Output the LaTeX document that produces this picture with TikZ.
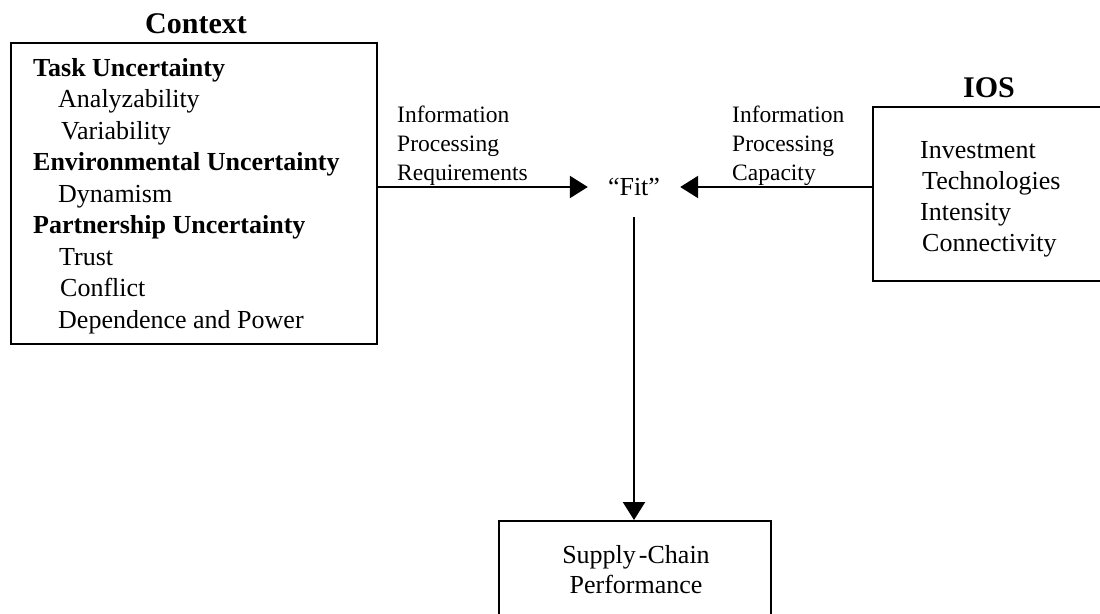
\documentclass[tikz,border=0pt]{standalone}
\usepackage{fontspec}
\setmainfont{Liberation Serif}
\usetikzlibrary{arrows.meta}
\tikzset{
  box/.style={draw, line width=2.4pt, rectangle, inner sep=0pt},
  body/.style={font=\fontsize{26}{31.5}\selectfont, inner sep=0pt},
  bodyb/.style={font=\fontsize{26}{31.5}\selectfont\bfseries, inner sep=0pt},
  lbl/.style={font=\fontsize{23.5}{29}\selectfont, inner sep=0pt, anchor=base west},
  ttl/.style={font=\fontsize{30}{36}\selectfont\bfseries, inner sep=0pt, anchor=base},
  arr/.style={line width=2.4pt, -{Triangle[length=18pt, width=22pt]}}
}
\begin{document}
\begin{tikzpicture}[x=1pt, y=-1pt]
\useasboundingbox (0,0) rectangle (1100,613);
\clip (0,0) rectangle (1100,613);
\fill[white] (0,0) rectangle (1100,613);
% Context box
\node[ttl] (ctxt) at (196,33) {Context};
\node[box, minimum width=366pt, minimum height=301pt, anchor=north west] (ctx) at (10,42) {};
\node[bodyb, anchor=base west] (c1) at (33,76) {Task Uncertainty};
\node[body, anchor=base west] (c2) at (58,107.5) {Analyzability};
\node[body, anchor=base west] (c3) at (61,139) {Variability};
\node[bodyb, anchor=base west] (c4) at (33,170.5) {Environmental Uncertainty};
\node[body, anchor=base west] (c5) at (58,202) {Dynamism};
\node[bodyb, anchor=base west] (c6) at (33,233.5) {Partnership Uncertainty};
\node[body, anchor=base west] (c7) at (59,265) {Trust};
\node[body, anchor=base west] (c8) at (60,296.5) {Conflict};
\node[body, anchor=base west] (c9) at (58,328) {Dependence and Power};
% IOS box
\node[ttl] (iost) at (989,97) {IOS};
\node[box, minimum width=260pt, minimum height=174pt, anchor=north west] (ios) at (872,106) {};
\node[body, anchor=base west] (i1) at (920,158) {Investment};
\node[body, anchor=base west] (i2) at (922,189) {Technologies};
\node[body, anchor=base west] (i3) at (920,220) {Intensity};
\node[body, anchor=base west] (i4) at (922,251) {Connectivity};
% Fit
\node[body, minimum width=92pt, minimum height=60pt] (fit) at (634,187) {``Fit''};
% Labels
\node[lbl] (l1) at (397,122) {Information};
\node[lbl] (l2) at (397,151) {Processing};
\node[lbl] (l3) at (397,180) {Requirements};
\node[lbl] (r1) at (732,122) {Information};
\node[lbl] (r2) at (732,151) {Processing};
\node[lbl] (r3) at (732,180) {Capacity};
% Supply chain box
\node[box, minimum width=272pt, minimum height=120pt, anchor=north west] (sc) at (498,520) {};
\node[body, anchor=base] (s1) at (636,563) {Supply\hspace{3pt}-Chain};
\node[body, anchor=base] (s2) at (636,593) {Performance};
% Connectors
\draw[arr] (ctx.east |- fit.west) -- (fit.west);
\draw[arr] (ios.west |- fit.east) -- (fit.east);
\draw[arr] (fit.south) -- (fit.south |- sc.north);
\end{tikzpicture}
\end{document}
